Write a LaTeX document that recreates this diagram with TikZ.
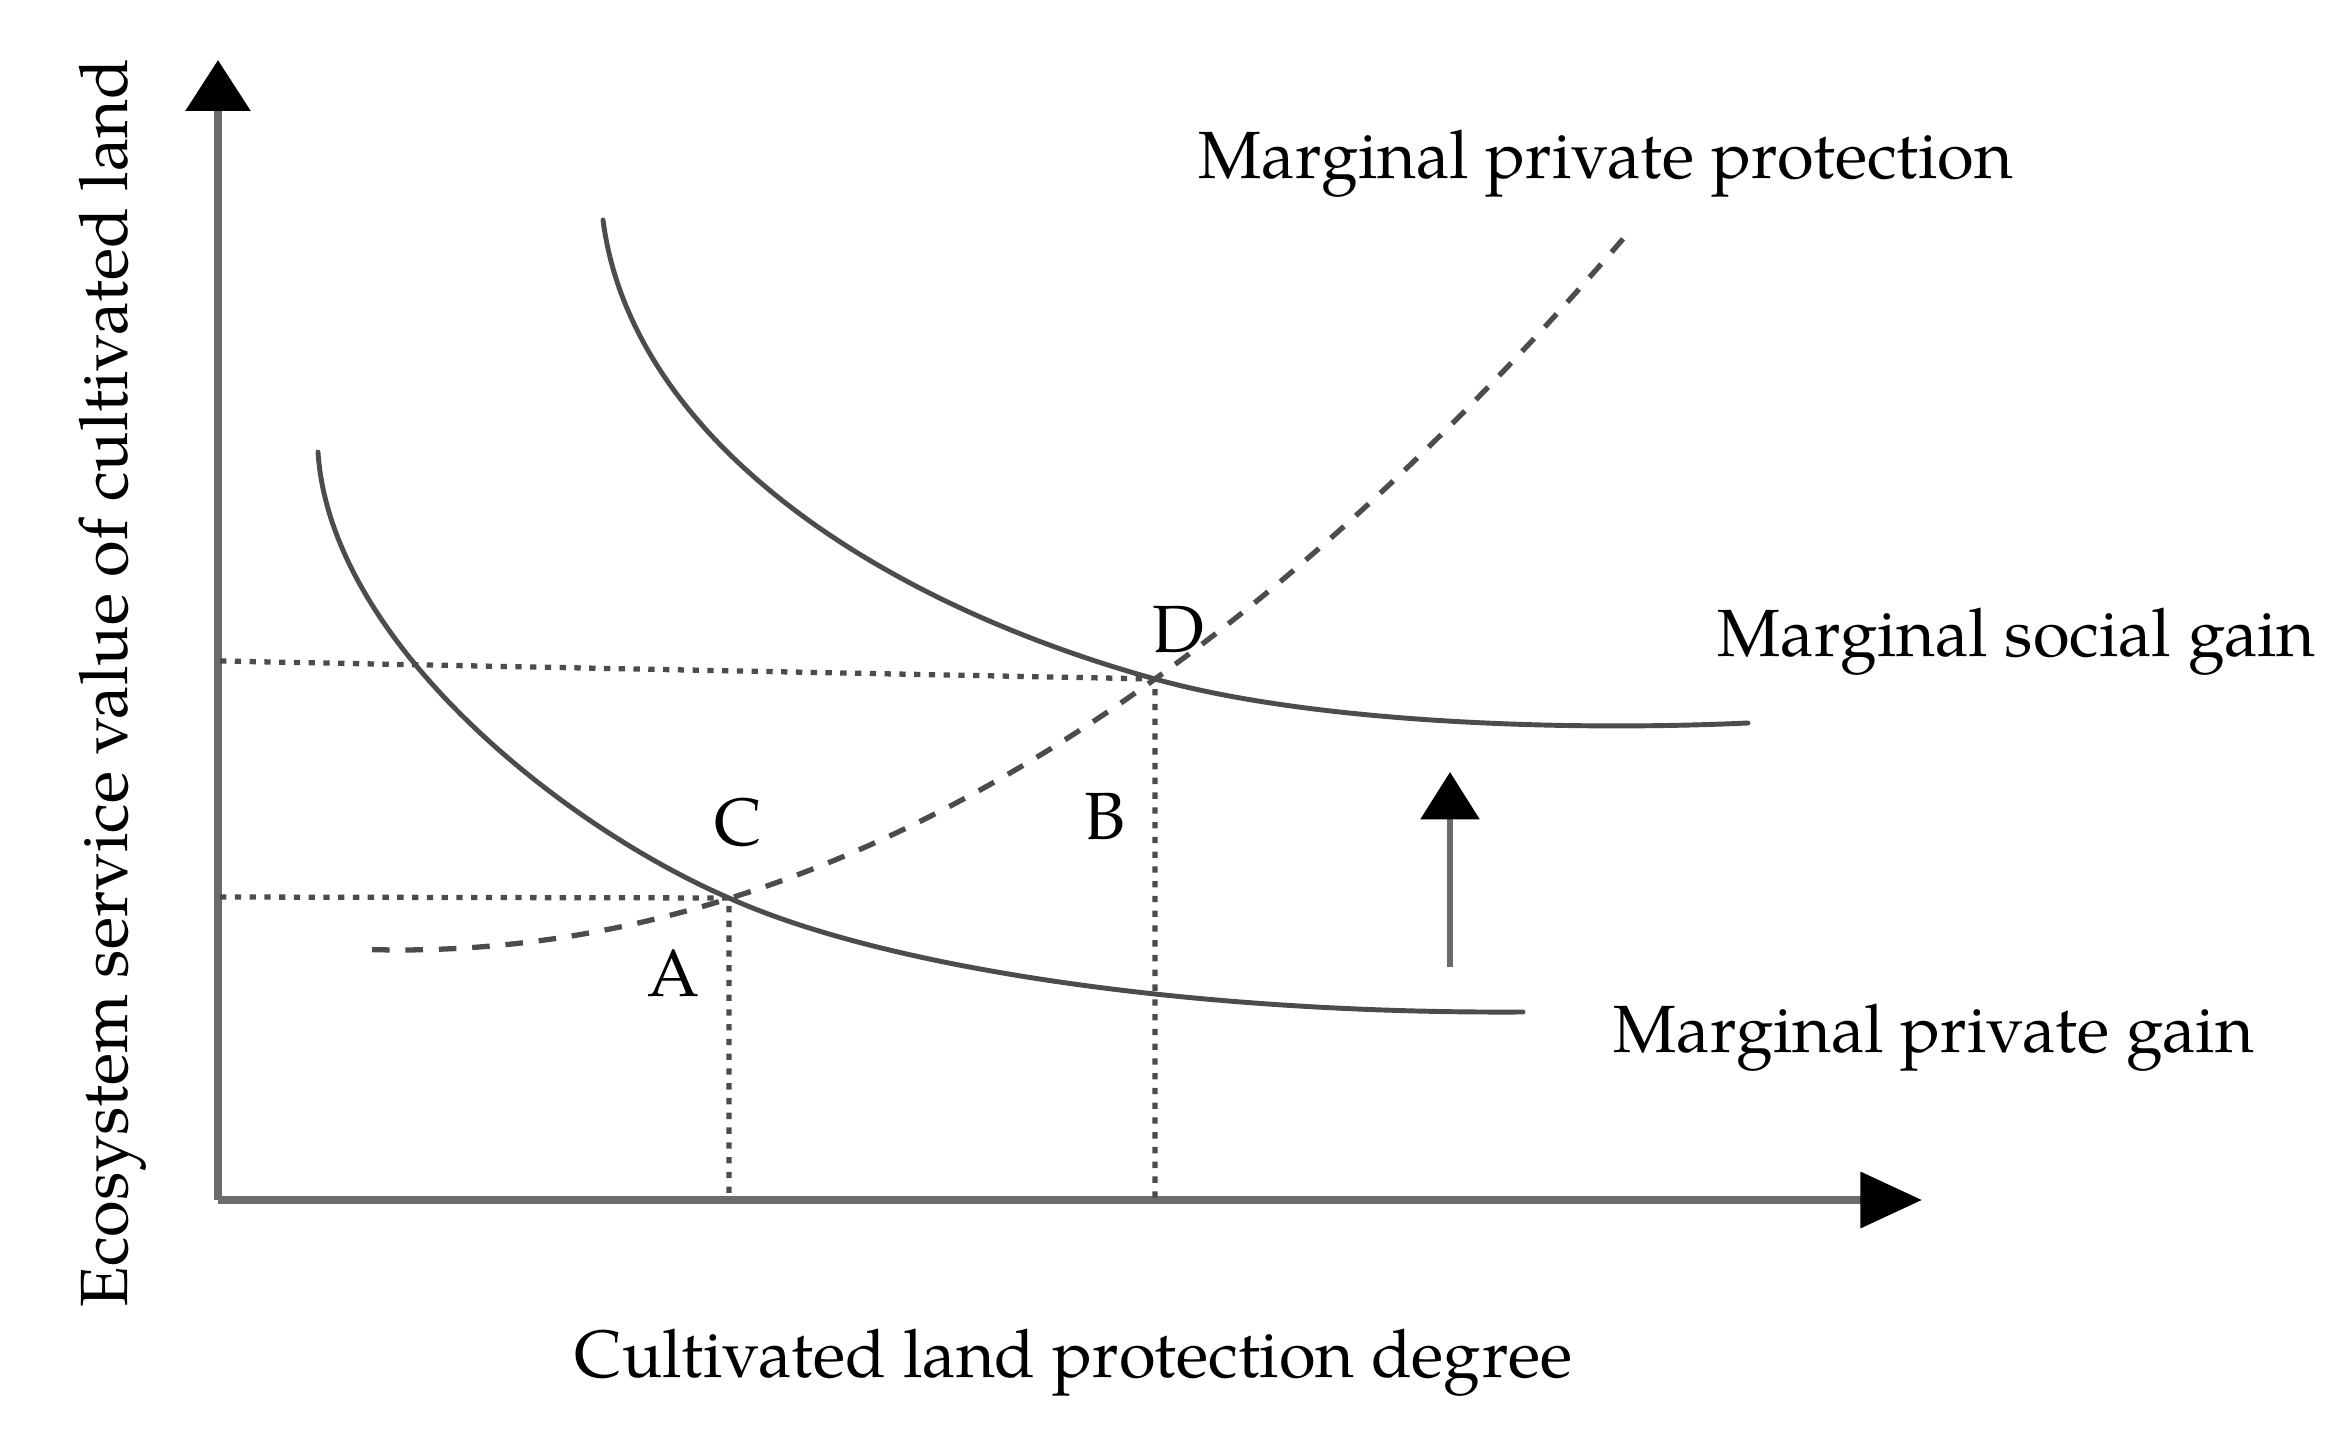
\documentclass[tikz,border=0pt]{standalone}
\usepackage{fontspec}
\setmainfont{TeX Gyre Pagella}
\usetikzlibrary{arrows.meta}
\definecolor{axisgray}{gray}{0.42}
\definecolor{curvegray}{gray}{0.3}
\definecolor{dotgray}{gray}{0.3}
\tikzset{
  axisline/.style={line width=2.4pt, color=axisgray},
  curveline/.style={line width=1.4pt, color=curvegray, line cap=round},
  dashline/.style={line width=1.5pt, color=curvegray, dash pattern=on 5pt off 4.5pt},
  dotline/.style={line width=1.5pt, color=dotgray, dash pattern=on 1.8pt off 2.4pt},
  lbl/.style={font=\fontsize{19pt}{23pt}\selectfont, inner sep=0pt, text=black},
}
\begin{document}
\begin{tikzpicture}[x=0.01cm,y=-0.01cm]
\useasboundingbox (0,0) rectangle (2339,1440);
% key points
\coordinate (O) at (218,1200);
\coordinate (Ytip) at (218,60);
\coordinate (Xtip) at (1922,1200);
\coordinate (D) at (1155,679);
\coordinate (C) at (729,898);
\coordinate (Dy) at (220,661);
\coordinate (Cy) at (220,897);
\coordinate (Dx) at (1155,1199);
\coordinate (Cx) at (729,1199);
\coordinate (Abot) at (1450,967);
\coordinate (Atop) at (1450,772);
\coordinate (Ls) at (318,452);
\coordinate (Le) at (1523,1012);
\coordinate (Us) at (603,220);
\coordinate (Ue) at (1748,723);
\coordinate (Ps) at (372,949.6);
\coordinate (Pe) at (1633,227.2);
% axes
\draw[axisline, -{Triangle[length=14.5pt,width=18pt,color=black]}] (O) -- (Ytip);
\draw[axisline, -{Triangle[length=17.5pt,width=15.5pt,color=black]}] (O) -- (Xtip);
% dotted guides
\draw[dotline] (Dy) -- (D) -- (Dx);
\draw[dotline] (Cy) -- (C) -- (Cx);
% marginal private gain
\draw[curveline] (Ls) .. controls (330,640) and (560,825) .. (C)
                      .. controls (889,970) and (1200,1014) .. (Le);
% marginal social gain
\draw[curveline] (Us) .. controls (630,430) and (860,597) .. (D)
                      .. controls (1305,721) and (1550,732) .. (Ue);
% marginal private protection
\draw[dashline] (Ps) .. controls (792.3,960.8) and (1212.7,720) .. (Pe);
% shift arrow
\draw[axisline, line width=1.8pt, -{Triangle[length=13.5pt,width=16.5pt,color=black]}] (Abot) -- (Atop);
% labels
\node[lbl, anchor=base west] (mpp) at (1198,179) {Marginal private protection};
\node[lbl, anchor=base west] (msg) at (1717,657) {Marginal social gain};
\node[lbl, anchor=base west] (mpg) at (1613,1052) {Marginal private gain};
\node[lbl, anchor=base west] (xl) at (574,1377) {Cultivated land protection degree};
\node[lbl, anchor=base, rotate=90] (yl) at (127,683) {Ecosystem service value of cultivated land};
\node[lbl, anchor=base] (lD) at (1178,653) {D};
\node[lbl, anchor=base] (lC) at (738,846) {C};
\node[lbl, anchor=base] (lB) at (1105,840) {B};
\node[lbl, anchor=base] (lA) at (673,996) {A};
\end{tikzpicture}
\end{document}
